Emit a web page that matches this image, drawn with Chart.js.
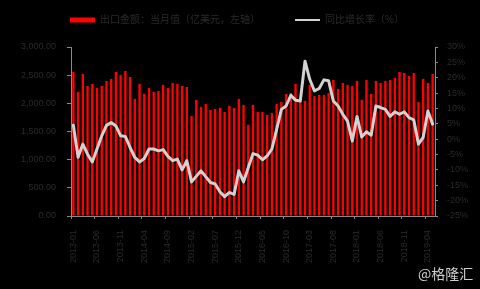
<!DOCTYPE html>
<html>
<head>
<meta charset="utf-8">
<script src="https://cdn.jsdelivr.net/npm/chart.js@4"></script>
<style>
  html, body { margin: 0; padding: 0; background: #000; }
  #wrap { position: relative; width: 480px; height: 289px; background: #000; }
  #mark { position: absolute; left: 418px; top: 263px; font: 14px "Noto Sans CJK SC", sans-serif; color: #cfcfcf; }
</style>
</head>
<body>
<div id="wrap">
  <canvas id="myChart"></canvas>
  <div id="mark">@格隆汇</div>
</div>
<script>
const months = [
  '2013-01','2013-02','2013-03','2013-04','2013-05','2013-06','2013-07','2013-08','2013-09','2013-10','2013-11','2013-12',
  '2014-01','2014-02','2014-03','2014-04','2014-05','2014-06','2014-07','2014-08','2014-09','2014-10','2014-11','2014-12',
  '2015-01','2015-02','2015-03','2015-04','2015-05','2015-06','2015-07','2015-08','2015-09','2015-10','2015-11','2015-12',
  '2016-01','2016-02','2016-03','2016-04','2016-05','2016-06','2016-07','2016-08','2016-09','2016-10','2016-11','2016-12',
  '2017-01','2017-02','2017-03','2017-04','2017-05','2017-06','2017-07','2017-08','2017-09','2017-10','2017-11','2017-12',
  '2018-01','2018-02','2018-03','2018-04','2018-05','2018-06','2018-07','2018-08','2018-09','2018-10','2018-11','2018-12',
  '2019-01','2019-02','2019-03','2019-04','2019-05'
];

// monthly value, left axis
const exportValue = [
  2557, 2203, 2522, 2309, 2345, 2274, 2309, 2398, 2433, 2557, 2504, 2575,
  2468, 2079, 2345, 2167, 2274, 2203, 2220, 2327, 2274, 2362, 2345, 2309,
  2291, 1777, 2061, 1937, 1990, 1884, 1901, 1919, 1848, 1955, 1919, 2079,
  1972, 1618, 1972, 1848, 1848, 1795, 1830, 1990, 2025, 2167, 2185, 2345,
  2025, 2043, 2327, 2132, 2149, 2149, 2185, 2415, 2256, 2362, 2327, 2309,
  2398, 2061, 2415, 2167, 2398, 2362, 2398, 2415, 2451, 2557, 2539, 2486,
  2539, 2025, 2433, 2362, 2522
];

// year on year %, right axis
const exportYoY = [
  4.5, -5.9, -1.6, -4.9, -7.4, -3.2, 1.1, 4.5, 5.4, 4.3, 1.1, 0.9,
  -2.7, -5.9, -7.4, -6.3, -3.2, -3.2, -3.8, -3.4, -5.6, -7.0, -6.5, -10.0,
  -7.0, -13.9, -12.1, -10.3, -12.2, -14.1, -14.6, -17.1, -18.7, -17.3, -18.0, -10.3,
  -13.9, -9.2, -4.7, -5.2, -6.7, -5.4, -3.2, 3.2, 9.7, 10.8, 14.3, 12.7,
  12.4, 25.4, 19.5, 15.7, 16.5, 19.3, 19.0, 12.4, 10.8, 8.1, 5.9, -0.6,
  7.4, 0.7, 2.4, 1.3, 10.8, 10.3, 9.7, 7.4, 8.9, 8.1, 8.9, 7.0,
  6.3, -1.6, 0.6, 9.2, 4.9
];

const seriesNames = ['出口金额：当月值（亿美元，左轴）', '同比增长率（%）'];
const leftTicks = [0, 500, 1000, 1500, 2000, 2500, 3000];
const rightTicks = [-25, -20, -15, -10, -5, 0, 5, 10, 15, 20, 25, 30];

const textColor = '#2a2a2a';
const axisColor = '#8a8a8a';
const tickFont = { family: '"Liberation Sans", "Noto Sans CJK SC", sans-serif', size: 9 };
const legendGap = 35;

// move the legend row up and left once the layout is done
const legendShift = {
  id: 'legendShift',
  afterLayout(chart) {
    chart.legend.top -= 12;
    chart.legend.left = 70 - legendGap;
  }
};

function createChart() {

    const ctx = document.getElementById('myChart');

    const data = {
        labels: months,
        datasets: [
            {
                type: 'bar',
                label: seriesNames[0],
                data: exportValue,
                backgroundColor: '#ff0000',
                borderWidth: 0,
                categoryPercentage: 1,
                barPercentage: 0.5,
                yAxisID: 'y',
                order: 1
            },
            {
                type: 'line',
                label: seriesNames[1],
                data: exportYoY,
                borderColor: '#d2d2d2',
                backgroundColor: '#d2d2d2',
                borderWidth: 3,
                pointRadius: 0,
                tension: 0,
                borderJoinStyle: 'round',
                borderCapStyle: 'round',
                yAxisID: 'y1',
                order: 0
            }
        ]
    };

    const config = {
        type: 'bar',
        data: data,
        plugins: [legendShift],
        options: {
            responsive: true,
            maintainAspectRatio: false,
            animation: false,
            layout: { padding: { top: -8, left: 0, right: 0, bottom: 0 } },
            plugins: {
                tooltip: { enabled: false },
                legend: {
                    position: 'top',
                    align: 'start',
                    labels: {
                        color: textColor,
                        padding: legendGap,
                        usePointStyle: true,
                        pointStyleWidth: 25,
                        boxHeight: 5,
                        font: { family: tickFont.family, size: 10 },
                        sort: (a, b) => a.datasetIndex - b.datasetIndex,
                        generateLabels: function (chart) {
                            const items = Chart.defaults.plugins.legend.labels.generateLabels(chart);
                            items.forEach(item => {
                                if (item.datasetIndex === 0) {
                                    item.pointStyle = 'rect';
                                    item.lineWidth = 0;
                                } else {
                                    item.pointStyle = 'line';
                                    item.lineWidth = 2;
                                    item.strokeStyle = '#d2d2d2';
                                }
                            });
                            return items;
                        }
                    }
                }
            },
            scales: {
                x: {
                    offset: true,
                    border: { color: axisColor },
                    grid: {
                        offset: true,
                        drawOnChartArea: false,
                        tickLength: 3,
                        color: c => (c.index % 5 === 0 ? axisColor : 'rgba(0,0,0,0)')
                    },
                    ticks: {
                        autoSkip: false,
                        maxRotation: 90,
                        minRotation: 90,
                        padding: 11,
                        color: textColor,
                        font: tickFont,
                        callback: (v, i) => (i % 5 === 0 ? months[i] : '')
                    },
                    afterFit: s => { s.height = 73; }
                },
                y: {
                    position: 'left',
                    min: leftTicks[0],
                    max: leftTicks[leftTicks.length - 1],
                    border: { color: axisColor },
                    grid: { drawOnChartArea: false, tickLength: 4, color: axisColor },
                    ticks: {
                        stepSize: leftTicks[1] - leftTicks[0],
                        padding: 11,
                        color: textColor,
                        font: tickFont,
                        callback: v => v.toLocaleString('en-US', { minimumFractionDigits: 2, maximumFractionDigits: 2 })
                    },
                    afterFit: s => { s.width = 71; }
                },
                y1: {
                    position: 'right',
                    min: rightTicks[0],
                    max: rightTicks[rightTicks.length - 1],
                    border: { color: axisColor },
                    grid: { drawOnChartArea: false, tickLength: 3, color: axisColor },
                    ticks: {
                        stepSize: rightTicks[1] - rightTicks[0],
                        padding: 9,
                        color: textColor,
                        font: tickFont,
                        callback: v => v + '%'
                    },
                    afterFit: s => { s.width = 45; }
                }
            }
        }
    };

    return new Chart(ctx, config);
}

const chart = createChart();
</script>
</body>
</html>
